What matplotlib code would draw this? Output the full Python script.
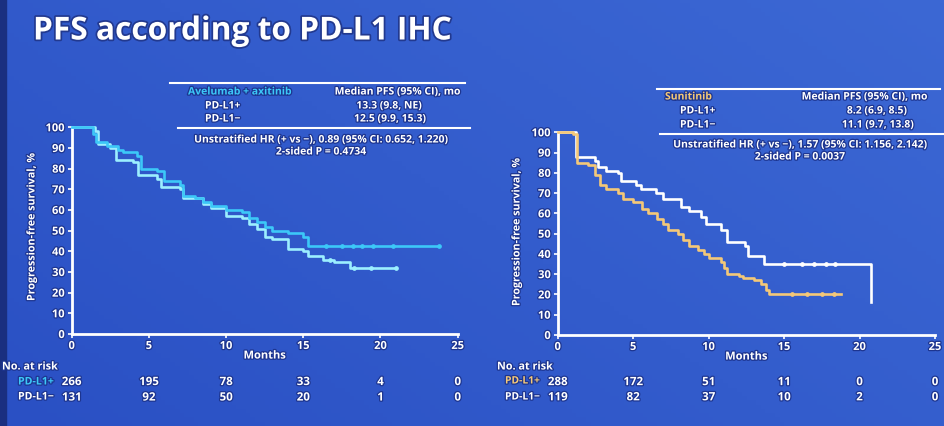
#!/usr/bin/env python3
"""
PFS according to PD-L1 IHC - Kaplan-Meier slide recreation
"""
import numpy as np
import matplotlib.pyplot as plt
import matplotlib.patheffects as pe

W, H = 945, 427
FONT = ['Open Sans', 'DejaVu Sans']

# Avelumab + axitinib arm
ave_pos_t = [0, 1.4, 1.6, 2.3, 3.0, 3.3, 4.2, 4.5, 5.5, 6.0, 7.0, 7.2, 8.0, 8.5, 9.0, 10.0,
             11.0, 11.5, 12.0, 12.5, 13.0, 14.0, 15.0, 15.3, 23.8]
ave_pos_s = [100, 97, 93, 91, 89, 88, 86, 80, 79, 74, 72, 67, 66, 64, 62, 60,
             59, 56, 54, 52, 50, 49, 47, 42.5, 42.5]
ave_neg_t = [0, 1.5, 1.7, 2.5, 2.9, 4.0, 4.3, 5.5, 5.8, 7.0, 7.2, 8.5, 9.0, 10.0,
             11.0, 11.5, 12.0, 12.5, 13.0, 14.0, 15.0, 15.3, 16.3, 17.0, 18.0, 21.0]
ave_neg_s = [100, 98, 92, 90, 84, 83, 77, 75, 71, 70, 66, 63, 61, 57,
             56, 53, 51, 47, 46, 41, 40, 37.5, 36, 35, 32, 32]
ave_pos_cens = [16.5, 17.5, 18.2, 18.8, 19.5, 20.8, 23.8]
ave_neg_cens = [16.7, 18.3, 19.4, 21.0]

# Sunitinib arm
sun_pos_t = [0, 1.0, 1.3, 2.0, 2.5, 2.8, 3.2, 4.0, 4.3, 5.0, 5.6, 6.0, 6.6, 7.0, 7.3, 8.0,
             8.3, 8.7, 9.3, 9.7, 10.0, 10.8, 11.0, 11.2, 12.0, 12.3, 13.0, 13.5, 13.8, 14.0, 18.8]
sun_pos_s = [100, 99, 85, 84, 79, 74, 72, 70, 67, 65.5, 62, 60, 57, 55, 52, 50,
             47, 44, 42, 40, 38, 36, 33, 30, 29, 28, 27, 25, 22, 20, 20]
sun_neg_t = [0, 1.2, 2.5, 2.7, 3.2, 4.0, 4.2, 5.2, 5.5, 6.5, 7.0, 8.2, 8.7, 9.5, 9.8,
             10.8, 11.2, 12.4, 12.6, 13.7, 20.7, 20.75]
sun_neg_s = [100, 88, 86, 83, 81, 80, 76, 74, 72, 70, 67, 63, 61, 58, 55,
             52, 46, 44, 39, 35, 35, 16.5]
sun_pos_cens = [15.5, 16.5, 17.5, 18.3]
sun_neg_cens = [15.0, 16.2, 17.0, 17.8, 18.4]

risk_times = [0, 5, 10, 15, 20, 25]
ave_risk_pos = [266, 195, 78, 33, 4, 0]
ave_risk_neg = [131, 92, 50, 20, 1, 0]
sun_risk_pos = [288, 172, 51, 11, 0, 0]
sun_risk_neg = [119, 82, 37, 10, 2, 0]

CYAN = '#3cc8f8'
CYAN_L = '#9cefff'
ORANGE = '#f4c878'
WHITE = '#ffffff'
HALO = [pe.withStroke(linewidth=1.8, foreground='#1d3590')]
SMALL = 7.5


def fx(x):
    return x / W


def fy(y):
    return 1 - y / H


def txt(fig, x, y, s, size=SMALL, color=WHITE, ha='left', va='center', **kw):
    fig.text(fx(x), fy(y), s, fontsize=size, color=color, ha=ha, va=va,
             fontweight='bold', family=FONT, path_effects=HALO, **kw)


def km_panel(fig, x0, x1, ytop, ybot, curves, cens, risks):
    ax = fig.add_axes([fx(x0), fy(ybot), (x1 - x0) / W, (ybot - ytop) / H])
    ax.set_facecolor('none')
    for (t, s, c) in curves:
        ax.step(t, s, where='post', color=c, lw=1.9, clip_on=False, zorder=3)
    for (ts, t, s, c) in cens:
        ys = [s[np.searchsorted(t, v, side='right') - 1] for v in ts]
        ax.plot(ts, ys, 'o', ms=2.4, color=c, clip_on=False, zorder=4)
    ax.set_xlim(0, 25)
    ax.set_ylim(0, 100)
    ax.set_xticks(range(0, 26, 5))
    ax.set_yticks(range(0, 101, 10))
    for sp in ['top', 'right']:
        ax.spines[sp].set_visible(False)
    for sp in ['left', 'bottom']:
        ax.spines[sp].set_color(WHITE)
        ax.spines[sp].set_linewidth(2)
    ax.tick_params(colors=WHITE, width=1.2, length=3, labelsize=8, pad=2)
    for lab in ax.get_xticklabels() + ax.get_yticklabels():
        lab.set_fontweight('bold')
        lab.set_family(FONT)
        lab.set_path_effects(HALO)
    ax.set_xlabel('Months', color=WHITE, fontsize=8, fontweight='bold', family=FONT,
                  labelpad=-1, path_effects=HALO)
    # risk table
    trans = ax.get_xaxis_transform()
    (rp, rn) = risks
    for t, a, b in zip(risk_times, rp, rn):
        ax.text(t, -0.23, str(a), transform=trans, ha='center', va='center', color=WHITE,
                fontsize=8.3, fontweight='bold', family=FONT, path_effects=HALO)
        ax.text(t, -0.305, str(b), transform=trans, ha='center', va='center', color=WHITE,
                fontsize=8.3, fontweight='bold', family=FONT, path_effects=HALO)
    return ax


fig = plt.figure(figsize=(9.45, 4.27), dpi=100)

# background gradient
bg = fig.add_axes([0, 0, 1, 1])
gx = np.linspace(0, 1, 200)
gy = np.linspace(0, 1, 100)
GX, GY = np.meshgrid(gx, gy)
c0 = np.array([42, 80, 196]) / 255
c1 = np.array([60, 104, 212]) / 255
mix = (0.6 * GX + 0.4 * GY)[..., None]
img = c0 * (1 - mix) + c1 * mix
bg.imshow(img, aspect='auto', extent=[0, 1, 0, 1], origin='lower')
bg.axvspan(0, 0.006, color='#1a2f80')
bg.set_axis_off()

# title
fig.text(fx(33), fy(32), 'PFS according to PD-L1 IHC', fontsize=22.8, fontweight='bold',
         color=WHITE, family=FONT, va='center', ha='left',
         path_effects=[pe.withStroke(linewidth=2.5, foreground='#22398f')])

# left panel
km_panel(fig, 71.7, 457.7, 128.3, 335,
         [(ave_neg_t, ave_neg_s, CYAN_L), (ave_pos_t, ave_pos_s, CYAN)],
         [(ave_pos_cens, ave_pos_t, ave_pos_s, CYAN), (ave_neg_cens, ave_neg_t, ave_neg_s, CYAN_L)],
         (ave_risk_pos, ave_risk_neg))
fig.text(fx(32), fy(228), 'Progression-free survival, %', rotation=90, color=WHITE, fontsize=7.7,
         fontweight='bold', family=FONT, ha='center', va='center', path_effects=HALO)

# right panel
km_panel(fig, 557.7, 935, 133.3, 336,
         [(sun_neg_t, sun_neg_s, WHITE), (sun_pos_t, sun_pos_s, ORANGE)],
         [(sun_pos_cens, sun_pos_t, sun_pos_s, ORANGE), (sun_neg_cens, sun_neg_t, sun_neg_s, WHITE)],
         (sun_risk_pos, sun_risk_neg))
fig.text(fx(517), fy(233), 'Progression-free survival, %', rotation=90, color=WHITE, fontsize=7.7,
         fontweight='bold', family=FONT, ha='center', va='center', path_effects=HALO)

# summary tables
fig.add_artist(plt.Line2D([fx(170), fx(465)], [fy(84), fy(84)], color=WHITE, lw=1.5))
fig.add_artist(plt.Line2D([fx(178), fx(470)], [fy(129), fy(129)], color=WHITE, lw=1.5))
txt(fig, 188, 93, 'Avelumab + axitinib', color=CYAN)
txt(fig, 460, 93, 'Median PFS (95% CI), mo', ha='right')
txt(fig, 205, 107, 'PD-L1+')
txt(fig, 389, 107, '13.3 (9.8, NE)', ha='center')
txt(fig, 205, 120, 'PD-L1\u2212')
txt(fig, 390, 120, '12.5 (9.9, 15.3)', ha='center')
txt(fig, 321, 141, 'Unstratified HR (+ vs \u2212), 0.89 (95% CI: 0.652, 1.220)', ha='center')
txt(fig, 321, 153, '2-sided P = 0.4734', ha='center')

fig.add_artist(plt.Line2D([fx(657), fx(940)], [fy(90), fy(90)], color=WHITE, lw=1.5))
fig.add_artist(plt.Line2D([fx(660), fx(943)], [fy(135), fy(135)], color=WHITE, lw=1.5))
txt(fig, 665, 98, 'Sunitinib', color=ORANGE)
txt(fig, 927, 98, 'Median PFS (95% CI), mo', ha='right')
txt(fig, 680, 112, 'PD-L1+')
txt(fig, 877, 112, '8.2 (6.9, 8.5)', ha='center')
txt(fig, 680, 126, 'PD-L1\u2212')
txt(fig, 878, 126, '11.1 (9.7, 13.8)', ha='center')
txt(fig, 800, 146, 'Unstratified HR (+ vs \u2212), 1.57 (95% CI: 1.156, 2.142)', ha='center')
txt(fig, 800, 158, '2-sided P = 0.0037', ha='center')

# risk table labels
txt(fig, 2, 368, 'No. at risk', size=7.8)
txt(fig, 18, 383, 'PD-L1+', color=CYAN, size=7.6)
txt(fig, 18, 398, 'PD-L1\u2212', size=7.6)
txt(fig, 497, 368, 'No. at risk', size=7.8)
txt(fig, 505, 382, 'PD-L1+', color=ORANGE, size=7.4)
txt(fig, 505, 398, 'PD-L1\u2212', size=7.4)

fig.savefig('out.png', dpi=100)
print("saved out.png")
